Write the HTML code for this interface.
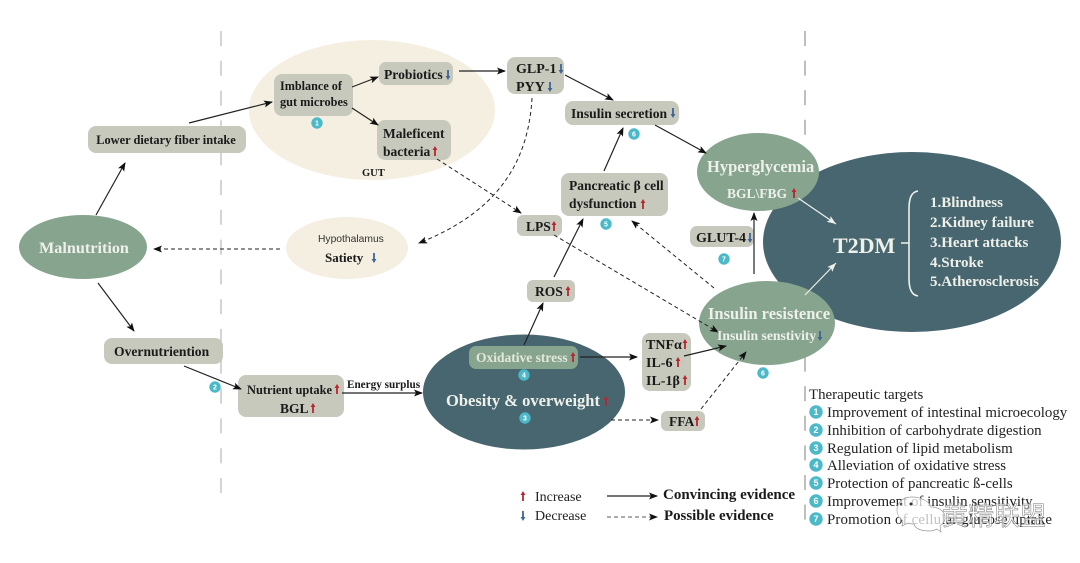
<!DOCTYPE html>
<html><head><meta charset="utf-8"><style>
html,body{margin:0;padding:0;background:#fff}
svg{display:block;filter:blur(.35px)}
text{font-family:"Liberation Serif",serif}
.b{font-weight:bold;fill:#1a1a1a}
.w{font-weight:bold;fill:#eef0ea}
.box{fill:#c8c9bd}
.l{stroke:#222;stroke-width:1.2;fill:none}
.d{stroke:#222;stroke-width:1;stroke-dasharray:4 3;fill:none}
.n{fill:#4cb9c9}
.nt{fill:#fff;font-family:"Liberation Sans",sans-serif;font-size:7px;font-weight:bold;text-anchor:middle}
.lg{font-size:14.9px;fill:#222}
.u{fill:#b8262f}.o{fill:#3f6496}
</style></head><body>
<svg width="1080" height="563" viewBox="0 0 1080 563" xmlns="http://www.w3.org/2000/svg">
<defs>
<marker id="a" markerWidth="9" markerHeight="8" refX="8" refY="3.5" orient="auto" markerUnits="userSpaceOnUse"><path d="M0 0L9 3.5L0 7L2 3.5Z" fill="#111"/></marker>
<marker id="aw" markerWidth="10" markerHeight="8" refX="9" refY="3.5" orient="auto" markerUnits="userSpaceOnUse"><path d="M0 0L9 3.5L0 7L2 3.5Z" fill="#eef0ea"/></marker>
<path id="up" d="M0 -5L2.4 -1H.9V5H-.9V-1H-2.4Z"/>
<path id="dn" d="M0 5L2.4 1H.9V-5H-.9V1H-2.4Z"/>
</defs>

<line x1="221" y1="31" x2="221" y2="495" stroke="#bdbdbd" stroke-width="1.3" stroke-dasharray="15 14.800"/>
<line x1="805" y1="31" x2="805" y2="525" stroke="#8a8a8a" stroke-width="1.1" stroke-dasharray="15 14.600"/>

<ellipse cx="372" cy="110" rx="123" ry="70" fill="#f4efe0"/>
<ellipse cx="347" cy="248" rx="61" ry="31" fill="#f4efe0"/>
<ellipse cx="83" cy="247" rx="64" ry="32" fill="#87a48f"/>
<ellipse cx="524" cy="392" rx="101" ry="57.500" fill="#48666f"/>
<ellipse cx="912" cy="242" rx="149" ry="90" fill="#48666f"/>
<ellipse cx="758" cy="172" rx="61" ry="39" fill="#87a48f"/>
<ellipse cx="767" cy="323" rx="68" ry="42" fill="#87a48f"/>

<rect class="box" x="88" y="126" width="158" height="27" rx="8"/>
<rect class="box" x="274" y="74" width="79" height="42" rx="8"/>
<rect class="box" x="379" y="62" width="74" height="23" rx="7"/>
<rect class="box" x="377" y="120" width="74" height="40" rx="8"/>
<rect class="box" x="507" y="57" width="57" height="37" rx="8"/>
<rect class="box" x="565" y="101" width="114" height="24" rx="8"/>
<rect class="box" x="561" y="173" width="107" height="43" rx="8"/>
<rect class="box" x="517" y="215" width="45" height="21" rx="6"/>
<rect class="box" x="527" y="280" width="48" height="22" rx="6"/>
<rect class="box" x="690" y="226" width="64" height="21" rx="7"/>
<rect class="box" x="104" y="338" width="119" height="26" rx="8"/>
<rect class="box" x="238" y="375" width="106" height="42" rx="8"/>
<rect x="469" y="346" width="109" height="23" rx="7" fill="#87a48f"/>
<rect class="box" x="642" y="333" width="49" height="58" rx="8"/>
<rect class="box" x="661" y="411" width="44" height="20" rx="6"/>

<!-- solid arrows -->
<path class="l" marker-end="url(#a)" d="M96 215L125 163"/>
<path class="l" marker-end="url(#a)" d="M189 123L272 102"/>
<path class="l" marker-end="url(#a)" d="M352 87L378 77"/>
<path class="l" marker-end="url(#a)" d="M352 108L378 125"/>
<path class="l" marker-end="url(#a)" d="M459 71L505 71"/>
<path class="l" marker-end="url(#a)" d="M565 75L613 100"/>
<path class="l" marker-end="url(#a)" d="M655 125L706 153"/>
<path class="l" marker-end="url(#a)" d="M604 171L623 128"/>
<path class="l" marker-end="url(#a)" d="M554 277L583 219"/>
<path class="l" marker-end="url(#a)" d="M524 345L543 303"/>
<path class="l" marker-end="url(#a)" d="M98 283L134 331"/>
<path class="l" marker-end="url(#a)" d="M184 366L241 389"/>
<path class="l" marker-end="url(#a)" d="M342 393L422 393"/>
<path class="l" marker-end="url(#a)" d="M580 357L637 357"/>
<path class="l" marker-end="url(#a)" d="M684 356L726 346"/>
<path class="l" marker-end="url(#a)" d="M754 274L754 213"/>
<!-- dashed arrows -->
<path class="d" marker-end="url(#a)" d="M280 249L154 249"/>
<path class="d" marker-end="url(#a)" d="M532 98C528 170 490 215 419 243"/>
<path class="d" marker-end="url(#a)" d="M437 159L521 213"/>
<path class="d" marker-end="url(#a)" d="M554 235L718 332"/>
<path class="d" marker-end="url(#a)" d="M714 288L632 221"/>
<path class="d" marker-end="url(#a)" d="M611 420L658 420"/>
<path class="d" marker-end="url(#a)" d="M701 409L746 352"/>
<!-- white arrows -->
<path stroke="#eef0ea" stroke-width="1.2" fill="none" marker-end="url(#aw)" d="M798 198L836 224"/>
<path stroke="#eef0ea" stroke-width="1.2" fill="none" marker-end="url(#aw)" d="M805 295L836 263"/>
<path stroke="#eef0ea" stroke-width="1.600" fill="none" d="M901 243H909M918 191C911 192 909 199 909 209V278C909 288 911 295 918 296"/>

<!-- text -->
<text class="b" x="166" y="144" font-size="12.400" text-anchor="middle">Lower dietary fiber intake</text>
<text class="b" x="280" y="90" font-size="12.200">Imblance of</text>
<text class="b" x="280" y="106" font-size="12.300">gut microbes</text>
<text class="b" x="384" y="79" font-size="13.600">Probiotics</text>
<text class="b" x="383" y="138" font-size="13.500">Maleficent</text>
<text class="b" x="383" y="156" font-size="13.500">bacteria</text>
<text class="b" x="362" y="176" font-size="10.500">GUT</text>
<text class="b" x="516" y="73" font-size="14">GLP-1</text>
<text class="b" x="516" y="91" font-size="14">PYY</text>
<text class="b" x="571" y="118" font-size="13.600">Insulin secretion</text>
<text class="b" x="569" y="190" font-size="13.500">Pancreatic β cell</text>
<text class="b" x="569" y="208" font-size="13.500">dysfunction</text>
<text class="b" x="526" y="231" font-size="13.500">LPS</text>
<text class="b" x="535" y="296" font-size="13.500">ROS</text>
<text class="b" x="696" y="242" font-size="14">GLUT-4</text>
<text class="b" x="114" y="356" font-size="13.600">Overnutriention</text>
<text class="b" x="247" y="394" font-size="12.400">Nutrient uptake</text>
<text class="b" x="280" y="413" font-size="13.500">BGL</text>
<text class="b" x="347" y="388" font-size="11.200">Energy surplus</text>
<text class="b" x="646" y="349" font-size="14">TNFα</text>
<text class="b" x="646" y="367" font-size="14">IL-6</text>
<text class="b" x="646" y="385" font-size="14">IL-1β</text>
<text class="b" x="669" y="426" font-size="13.500">FFA</text>
<text x="318" y="242" fill="#333" style="font-family:'Liberation Sans',sans-serif;font-size:10.300px">Hypothalamus</text>
<text class="b" x="325" y="262" font-size="13">Satiety</text>

<text class="w" x="39" y="253" font-size="16.200">Malnutrition</text>
<text class="w" x="476" y="362" font-size="13.500" style="fill:#e4e8dc">Oxidative stress</text>
<text class="w" x="446" y="406" font-size="16.500">Obesity &amp; overweight</text>
<text class="w" x="707" y="172" font-size="16.500">Hyperglycemia</text>
<text class="w" x="727" y="198" font-size="13.500">BGL\FBG</text>
<text class="w" x="708" y="319" font-size="16.500">Insulin resistence</text>
<text class="w" x="717" y="340" font-size="13.700">Insulin senstivity</text>
<text class="w" x="833" y="253" font-size="22">T2DM</text>
<text class="w" x="930" y="207" font-size="15">1.Blindness</text>
<text class="w" x="930" y="227" font-size="15">2.Kidney failure</text>
<text class="w" x="930" y="247" font-size="15">3.Heart attacks</text>
<text class="w" x="930" y="267" font-size="15">4.Stroke</text>
<text class="w" x="930" y="286" font-size="15">5.Atherosclerosis</text>

<!-- small up/down marks -->
<g class="o">
<use href="#dn" x="448" y="75"/><use href="#dn" x="561" y="69"/><use href="#dn" x="550" y="87"/>
<use href="#dn" x="673" y="113"/><use href="#dn" x="374" y="258"/><use href="#dn" x="750" y="238"/>
<use href="#dn" x="820" y="336"/><use href="#dn" x="523" y="516"/>
</g>
<g class="u">
<use href="#up" x="435" y="151"/><use href="#up" x="643" y="204"/><use href="#up" x="554" y="226"/>
<use href="#up" x="568" y="291"/><use href="#up" x="794" y="193"/><use href="#up" x="337" y="389"/>
<use href="#up" x="313" y="408"/><use href="#up" x="573" y="357"/><use href="#up" x="606" y="401"/>
<use href="#up" x="685" y="344"/><use href="#up" x="678" y="362"/><use href="#up" x="685" y="380"/>
<use href="#up" x="697" y="421"/><use href="#up" x="523" y="496"/>
</g>

<!-- number badges -->
<g>
<circle class="n" cx="317" cy="123" r="5.700"/><text class="nt" x="317" y="125.500">1</text>
<circle class="n" cx="215" cy="387" r="5.700"/><text class="nt" x="215" y="389.500">2</text>
<circle class="n" cx="525" cy="418" r="5.700"/><text class="nt" x="525" y="420.500">3</text>
<circle class="n" cx="524" cy="375" r="5.700"/><text class="nt" x="524" y="377.500">4</text>
<circle class="n" cx="606" cy="224" r="5.700"/><text class="nt" x="606" y="226.500">5</text>
<circle class="n" cx="634" cy="134" r="5.700"/><text class="nt" x="634" y="136.500">6</text>
<circle class="n" cx="763" cy="373" r="5.700"/><text class="nt" x="763" y="375.500">6</text>
<circle class="n" cx="724" cy="259" r="5.700"/><text class="nt" x="724" y="261.500">7</text>
</g>

<!-- legend -->
<text x="535" y="501" style="font-size:14px;fill:#222">Increase</text>
<text x="535" y="520" style="font-size:14px;fill:#222">Decrease</text>
<path class="l" marker-end="url(#a)" d="M607 496L657 496"/>
<path stroke="#222" stroke-width=".8" stroke-dasharray="4 3" fill="none" marker-end="url(#a)" d="M607 517L657 517"/>
<text class="b" x="663" y="499" font-size="15">Convincing evidence</text>
<text class="b" x="664" y="520" font-size="14.900">Possible evidence</text>

<text class="lg" x="809" y="399">Therapeutic targets</text>
<g>
<circle class="n" cx="816" cy="412" r="6.700"/><text class="nt" x="816" y="415" style="font-size:9px">1</text>
<circle class="n" cx="816" cy="430" r="6.700"/><text class="nt" x="816" y="433" style="font-size:9px">2</text>
<circle class="n" cx="816" cy="448" r="6.700"/><text class="nt" x="816" y="451" style="font-size:9px">3</text>
<circle class="n" cx="816" cy="465" r="6.700"/><text class="nt" x="816" y="468" style="font-size:9px">4</text>
<circle class="n" cx="816" cy="483" r="6.700"/><text class="nt" x="816" y="486" style="font-size:9px">5</text>
<circle class="n" cx="816" cy="501" r="6.700"/><text class="nt" x="816" y="504" style="font-size:9px">6</text>
<circle class="n" cx="816" cy="519" r="6.700"/><text class="nt" x="816" y="522" style="font-size:9px">7</text>
</g>
<text class="lg" x="827" y="417">Improvement of intestinal microecology</text>
<text class="lg" x="827" y="435">Inhibition of carbohydrate digestion</text>
<text class="lg" x="827" y="453">Regulation of lipid metabolism</text>
<text class="lg" x="827" y="470">Alleviation of oxidative stress</text>
<text class="lg" x="827" y="488">Protection of pancreatic ß-cells</text>
<text class="lg" x="827" y="506">Improvement of insulin sensitivity</text>
<text class="lg" x="827" y="524" textLength="225">Promotion of cellular glucose uptake</text>
<!-- watermark -->
<path d="M912 497C902 497 897 503 897 510C897 515 899 518 903 521L902 526L908 523C910 524 912 524 914 524C915 529 922 531 930 531C933 531 935 530 937 529L941 532L940 526C943 524 945 521 945 518C945 511 939 507 931 507C929 501 921 497 912 497Z" fill="#fff" fill-opacity=".72" stroke="#999" stroke-width=".7"/>
<circle cx="901" cy="504" r="1.300" fill="#555"/><circle cx="911" cy="504" r="1.500" fill="#333"/>
<text x="942" y="525" stroke="#777" stroke-width=".5" fill="#fff" fill-opacity=".7" style="font-family:'Liberation Sans','Noto Sans CJK SC',sans-serif;font-size:26px">黄精联盟</text>
</svg>
</body></html>
